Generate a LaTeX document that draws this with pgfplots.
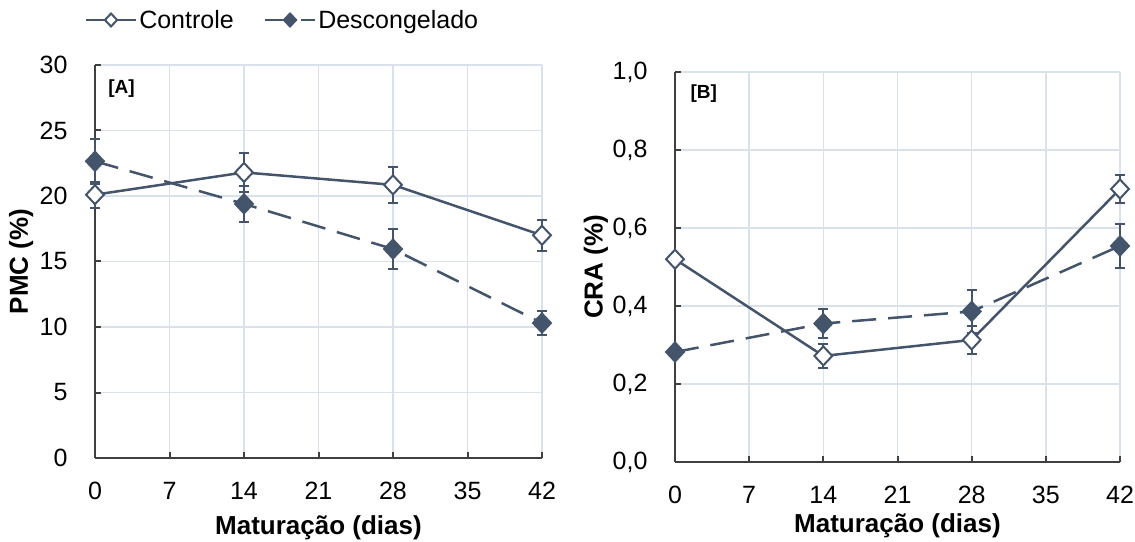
\documentclass[border=0pt]{standalone}
\usepackage{fontspec}
\setmainfont{Liberation Sans}
\usepackage{pgfplots}
\usepackage{pgfplotstable}
\pgfplotsset{compat=1.18}

\definecolor{serie}{HTML}{44546A}
\definecolor{grade}{HTML}{D9E1EA}
\definecolor{eixo}{HTML}{404040}

% dias  media  desvio
\pgfplotstableread{
d   m      e
0   20.1   1.0
14  21.8   1.5
28  20.85  1.4
42  17.0   1.2
}\pmccontrole
\pgfplotstableread{
d   m      e
0   22.65  1.7
14  19.4   1.4
28  15.95  1.5
42  10.3   0.9
}\pmcdescongelado
\pgfplotstableread{
d   m      e
0   0.52   0.012
14  0.272  0.03
28  0.313  0.035
42  0.70   0.037
}\cracontrole
\pgfplotstableread{
d   m      e
0   0.282  0.012
14  0.355  0.038
28  0.386  0.054
42  0.554  0.057
}\cradescongelado

\pgfplotsset{
  painel/.style={
    scale only axis,
    xmin=0, xmax=42, ymin=0,
    xtick={0,7,...,42},
    axis x line*=bottom, axis y line*=left,
    axis line style={eixo, line width=2.2pt, -},
    tick style={eixo, line width=2pt},
    major tick length=6pt,
    tick align=inside,
    grid=major,
    major grid style={grade, line width=1.4pt},
    tick label style={font=\fontsize{25}{29}\selectfont},
    /pgf/number format/assume math mode=true,
    yticklabel style={xshift=-24pt},
    xticklabel style={yshift=-21pt},
    label style={font=\bfseries\fontsize{26}{31}\selectfont},
    clip=false,
    legend image code/.code={
      \draw[mark repeat=2, mark phase=2, #1, mark size=6.5pt]
        plot coordinates {(0pt,0pt) (25pt,0pt) (50pt,0pt)};
    },
  },
  barras/.style={
    forget plot, draw=none, mark=none,
    error bars/.cd, y dir=both, y explicit,
    error bar style={draw=serie, line width=2pt, solid},
    error mark options={draw=serie, rotate=90, mark size=5pt, line width=2pt},
  },
  controle/.style={
    serie, line width=2.5pt, mark=diamond*, mark size=9.5pt,
    mark options={fill=white, xscale=1.25, solid, line width=2pt},
  },
  descongelado/.style={
    serie, line width=2.5pt, dash pattern=on 24pt off 12pt,
    mark=diamond*, mark size=9.5pt,
    mark options={fill=serie, xscale=1.25, solid, line width=2pt},
  },
}

\begin{document}
\begin{tikzpicture}
\path[use as bounding box] (0pt,0pt) rectangle (1135pt,541pt);

% [A] perda de massa por cozimento
\begin{axis}[painel,
  at={(95pt,83pt)}, anchor=south west,
  width=447pt, height=393pt,
  ymax=30, ytick={0,5,...,30},
  xlabel={Maturação (dias)}, ylabel={PMC (\%)},
  xlabel style={at={(axis description cs:0.5,-0.178)}, anchor=center},
  ylabel style={at={(axis description cs:-0.165,0.5)}, anchor=center},
  legend style={at={(axis description cs:-0.03,1.1145)}, anchor=west,
    draw=none, fill=none, legend columns=2,
    font=\fontsize{25}{29}\selectfont,
    nodes={inner xsep=2pt, inner ysep=2pt},
    /tikz/every even column/.append style={column sep=28pt}},
]
\addplot[barras] table[x=d, y=m, y error=e] {\pmccontrole};
\addplot[barras] table[x=d, y=m, y error=e] {\pmcdescongelado};
\addplot[controle] table[x=d, y=m] {\pmccontrole};
\addlegendentry{Controle}
\addplot[descongelado] table[x=d, y=m] {\pmcdescongelado};
\addlegendentry{Descongelado}
\node[anchor=west, font=\bfseries\fontsize{19}{22}\selectfont]
  at (axis description cs:0.022,0.939) {[A]};
\end{axis}

% [B] capacidade de retenção de água
\begin{axis}[painel,
  at={(675pt,79pt)}, anchor=south west,
  width=445pt, height=390pt,
  ymax=1, ytick={0,0.2,0.4,0.6,0.8,1},
  yticklabel style={/pgf/number format/.cd, fixed, fixed zerofill, precision=1, use comma},
  xlabel={Maturação (dias)}, ylabel={CRA (\%)},
  xlabel style={at={(axis description cs:0.5,-0.164)}, anchor=center},
  ylabel style={at={(axis description cs:-0.178,0.5)}, anchor=center},
]
\addplot[barras] table[x=d, y=m, y error=e] {\cracontrole};
\addplot[barras] table[x=d, y=m, y error=e] {\cradescongelado};
\addplot[controle] table[x=d, y=m] {\cracontrole};
\addplot[descongelado] table[x=d, y=m] {\cradescongelado};
\node[anchor=west, font=\bfseries\fontsize{19}{22}\selectfont]
  at (axis description cs:0.027,0.944) {[B]};
\end{axis}
\end{tikzpicture}
\end{document}
